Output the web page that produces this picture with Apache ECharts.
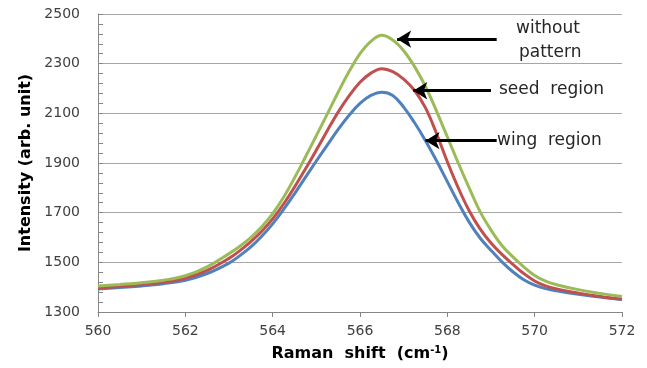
<!DOCTYPE html>
<html>
<head>
<meta charset="utf-8">
<script src="https://cdn.jsdelivr.net/npm/echarts@6/dist/echarts.min.js"></script>
<style>
  html, body { margin: 0; padding: 0; background: #fff; }
  #chart { width: 647px; height: 368px; }
</style>
</head>
<body>
<div id="chart"></div>
<script>
// Raman shift (cm-1)
const ramanShift = [560, 560.5, 561, 561.5, 562, 562.5,
  563, 563.25, 563.5, 563.75, 564, 564.25, 564.5, 564.75, 565, 565.25, 565.5, 565.75,
  566, 566.25, 566.5, 566.75, 567, 567.25, 567.5, 567.75, 568, 568.25, 568.5, 568.75,
  569, 569.25, 569.5, 569.75, 570,
  570.25, 570.5, 571, 571.5, 572];

// intensity values
const withoutPattern = [1405, 1411, 1418, 1428, 1446, 1482,
  1535, 1565, 1600, 1643, 1696, 1762, 1840, 1924, 2010, 2097, 2185, 2268,
  2340, 2390, 2414, 2395, 2352, 2288, 2208, 2110, 2005, 1900, 1800, 1704,
  1630, 1568, 1522, 1482, 1447,
  1424, 1410, 1390, 1375, 1362];
const seedRegion = [1397, 1403, 1411, 1420, 1436, 1468,
  1516, 1547, 1583, 1625, 1675, 1735, 1803, 1876, 1952, 2030, 2105, 2170,
  2225, 2262, 2280, 2268, 2238, 2192, 2122, 2020, 1905, 1800, 1708, 1635,
  1578, 1532, 1492, 1455, 1425,
  1405, 1393, 1376, 1362, 1351];
const wingRegion = [1393, 1399, 1405, 1414, 1428, 1455,
  1497, 1527, 1562, 1605, 1655, 1713, 1776, 1842, 1908, 1972, 2035, 2092,
  2140, 2172, 2185, 2172, 2125, 2062, 1990, 1910, 1825, 1740, 1662, 1598,
  1548, 1502, 1462, 1430, 1408,
  1394, 1385, 1371, 1360, 1350];

const seriesNames = ['without pattern', 'seed region', 'wing region'];
const seriesColors = ['#9BBB59', '#C0504D', '#4F81BD'];

const FONT = 'DejaVu Sans';

const chart = echarts.init(document.getElementById('chart'));

const toPairs = (ys) => ramanShift.map((x, i) => [x, ys[i]]);

// black arrows pointing at the curves
const arrowLine = (from, to) => ({
  silent: true,
  symbol: ['none', 'arrow'],
  symbolSize: [13, 14],
  label: { show: false },
  emphasis: { disabled: true },
  lineStyle: { color: '#000', width: 3, type: 'solid' },
  data: [[{ coord: from }, { coord: to }]],
});

const lineSeries = (name, ys, color, arrowFrom, arrowTo) => ({
  name,
  type: 'line',
  smooth: 0.4,
  symbol: 'none',
  data: toPairs(ys),
  lineStyle: { color, width: 3 },
  markLine: arrowLine(arrowFrom, arrowTo),
});

const option = {
  animation: false,
  grid: { left: 98, right: 25, top: 14, bottom: 56 },
  xAxis: {
    type: 'value',
    min: 560,
    max: 572,
    interval: 2,
    name: 'Raman  shift  (cm{sup|-1})',
    nameLocation: 'middle',
    nameGap: 33,
    nameTextStyle: {
      fontFamily: FONT,
      fontWeight: 'bold',
      fontSize: 16,
      color: '#000',
      rich: {
        sup: { fontFamily: FONT, fontWeight: 'bold', fontSize: 10, verticalAlign: 'top', padding: [0, 0, 8, 0] },
      },
    },
    axisLine: { show: true, lineStyle: { color: '#868686', width: 1 } },
    axisTick: { show: true, length: 5, lineStyle: { color: '#868686' } },
    axisLabel: { fontFamily: FONT, fontSize: 14, color: '#404040', margin: 12, formatter: (v) => String(v) },
    splitLine: { show: false },
  },
  yAxis: {
    type: 'value',
    min: 1300,
    max: 2500,
    interval: 200,
    name: 'Intensity (arb. unit)',
    nameLocation: 'middle',
    nameGap: 64,
    nameTextStyle: { fontFamily: FONT, fontWeight: 'bold', fontSize: 16, color: '#000' },
    axisLine: { show: true, lineStyle: { color: '#868686', width: 1 } },
    axisTick: { show: true, inside: true, length: 5, lineStyle: { color: '#868686', width: 1 } },
    minorTick: { show: true, splitNumber: 5, length: 5, lineStyle: { color: '#868686', width: 1 } },
    axisLabel: { fontFamily: FONT, fontSize: 14, color: '#404040', margin: 18, formatter: (v) => String(v) },
    splitLine: { show: true, lineStyle: { color: '#a6a6a6', width: 1 } },
  },
  series: [
    lineSeries(seriesNames[2], wingRegion, seriesColors[2], [569.13, 1990], [567.5, 1990]),
    lineSeries(seriesNames[1], seedRegion, seriesColors[1], [569.0, 2191], [567.22, 2191]),
    lineSeries(seriesNames[0], withoutPattern, seriesColors[0], [569.13, 2399], [566.85, 2399]),
  ],
  graphic: [
    { type: 'text', left: 516, top: 20, style: { text: 'without', fontFamily: FONT, fontSize: 17, fill: '#262626' } },
    { type: 'text', left: 519, top: 44, style: { text: 'pattern', fontFamily: FONT, fontSize: 17, fill: '#262626' } },
    { type: 'text', left: 499, top: 81, style: { text: 'seed  region', fontFamily: FONT, fontSize: 17, fill: '#262626' } },
    { type: 'text', left: 497, top: 132, style: { text: 'wing  region', fontFamily: FONT, fontSize: 17, fill: '#262626' } },
  ],
};

chart.setOption(option);
</script>
</body>
</html>
